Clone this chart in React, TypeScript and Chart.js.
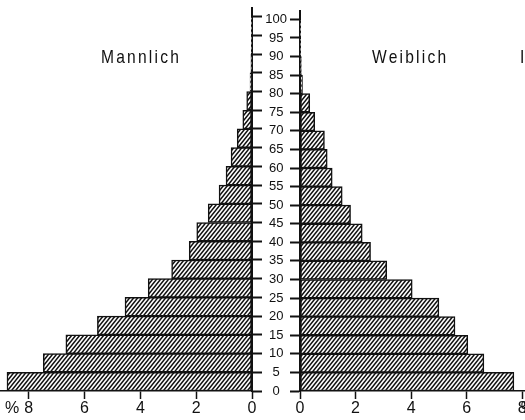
import React, { useEffect, useRef } from 'react';
import { Chart, registerables } from 'chart.js';

Chart.register(...registerables);

// Age groups (lower bound of each 5-year band) and the age axis tick labels
const ageGroupStart = [0, 5, 10, 15, 20, 25, 30, 35, 40, 45, 50, 55, 60, 65, 70, 75, 80, 85, 90, 95];
const ageTicks = [0, 5, 10, 15, 20, 25, 30, 35, 40, 45, 50, 55, 60, 65, 70, 75, 80, 85, 90, 95, 100];

// Share of population in % per age group
const maleShare = [8.78, 7.48, 6.67, 5.54, 4.55, 3.72, 2.88, 2.25, 1.98, 1.57, 1.18, 0.93, 0.75, 0.53, 0.33, 0.19, 0.07, 0.04, 0.02, 0.01];
const femaleShare = [7.7, 6.62, 6.04, 5.58, 5.0, 4.04, 3.12, 2.54, 2.24, 1.82, 1.52, 1.16, 0.98, 0.88, 0.53, 0.35, 0.09, 0.05, 0.02, 0.01];

// Percent axis tick labels
const percentTicks = [0, 2, 4, 6, 8];

const maleTitle = 'Mannlich';
const femaleTitle = 'Weiblich';

const FONT = '"Liberation Sans", Arial, sans-serif';
const LEFT_PCT_POS = 8.6;
const RIGHT_PCT_POS = 8.2;

function makeHatch(): CanvasPattern | string {
  const w = 4;
  const h = 5;
  const c = document.createElement('canvas');
  c.width = w;
  c.height = h;
  const g = c.getContext('2d');
  if (!g) return '#ccc';
  g.fillStyle = '#fff';
  g.fillRect(0, 0, w, h);
  g.strokeStyle = '#111';
  g.lineWidth = 1.5;
  g.beginPath();
  for (const dx of [-w, 0, w]) {
    g.moveTo(dx - w, 2 * h);
    g.lineTo(dx + 2 * w, -h);
  }
  g.stroke();
  return g.createPattern(c, 'repeat') || '#ccc';
}

export default function App() {
  const leftRef = useRef<HTMLCanvasElement | null>(null);
  const rightRef = useRef<HTMLCanvasElement | null>(null);

  useEffect(() => {
    if (!leftRef.current || !rightRef.current) return;
    const hatch = makeHatch();
    const mids = ageGroupStart.map((a) => a + 2.5);

    const dataset = (vals: number[]) => ({
      data: mids.map((y, i) => ({ x: vals[i], y })),
      backgroundColor: hatch,
      borderColor: '#111',
      borderWidth: 1.5,
      borderSkipped: false,
      barPercentage: 1,
      categoryPercentage: 1,
    });

    const yTicksBuild = (s: any) => {
      s.ticks = ageTicks.map((v) => ({ value: v }));
    };

    const xAxis = (reverse: boolean, max: number, pctPos: number) => ({
      type: 'linear',
      reverse,
      min: 0,
      max,
      offset: false,
      afterBuildTicks: (s: any) => {
        s.ticks = [...percentTicks.map((v) => ({ value: v })), { value: pctPos }];
      },
      afterFit: (s: any) => {
        s.height = 29;
      },
      ticks: {
        autoSkip: false,
        maxRotation: 0,
        padding: 0,
        color: '#111',
        font: { family: FONT, size: 16 },
        callback: (v: any) => (v === pctPos ? '%' : String(v)),
      },
      grid: {
        drawOnChartArea: false,
        offset: false,
        tickLength: 8,
        tickWidth: 1.5,
        tickColor: (ctx: any) => (ctx.tick && ctx.tick.value === pctPos ? 'rgba(0,0,0,0)' : '#111'),
      },
      border: { display: true, color: '#111', width: 1.5 },
    });

    const left = new Chart(leftRef.current, {
      type: 'bar',
      data: { datasets: [dataset(maleShare) as any] },
      options: {
        indexAxis: 'y',
        animation: false,
        responsive: false,
        maintainAspectRatio: false,
        plugins: { legend: { display: false }, tooltip: { enabled: false } },
        layout: { padding: { top: 8, left: 0, right: 0, bottom: 0 } },
        scales: {
          x: xAxis(true, 9.03, LEFT_PCT_POS),
          y: {
            type: 'linear',
            position: 'right',
            min: 0,
            max: 102.3,
            offset: false,
            afterBuildTicks: yTicksBuild,
            afterFit: (s: any) => {
              s.width = 10;
            },
            ticks: { display: false, autoSkip: false },
            grid: { drawOnChartArea: false, offset: false, tickLength: 10, tickWidth: 2, color: '#111' },
            border: { display: true, color: '#111', width: 2 },
          },
        },
      } as any,
    });

    const right = new Chart(rightRef.current, {
      type: 'bar',
      data: { datasets: [dataset(femaleShare) as any] },
      options: {
        indexAxis: 'y',
        animation: false,
        responsive: false,
        maintainAspectRatio: false,
        plugins: { legend: { display: false }, tooltip: { enabled: false } },
        layout: { padding: { top: 8, left: 0, right: 0, bottom: 0 } },
        scales: {
          x: xAxis(false, 9, RIGHT_PCT_POS),
          y: {
            type: 'linear',
            position: 'left',
            min: 0,
            max: 102.3,
            offset: false,
            afterBuildTicks: yTicksBuild,
            afterFit: (s: any) => {
              s.width = 38;
            },
            ticks: {
              display: true,
              autoSkip: false,
              crossAlign: 'center',
              padding: 3,
              color: '#111',
              font: { family: FONT, size: 13 },
              callback: (v: any) => String(v),
            },
            grid: { drawOnChartArea: false, offset: false, tickLength: 10, tickWidth: 2, color: '#111' },
            border: { display: true, color: '#111', width: 2 },
          },
        },
      } as any,
    });

    return () => {
      left.destroy();
      right.destroy();
    };
  }, []);

  const titleStyle: React.CSSProperties = {
    position: 'absolute',
    top: 47,
    fontFamily: FONT,
    fontSize: 19,
    lineHeight: '19px',
    letterSpacing: '2.7px',
    color: '#111',
    whiteSpace: 'nowrap',
    transform: 'scaleX(0.82)',
    transformOrigin: 'left top',
  };

  return (
    <div
      style={{
        position: 'fixed',
        left: 0,
        top: 0,
        width: 525,
        height: 420,
        overflow: 'hidden',
        background: '#fff',
      }}
    >
      <canvas
        ref={leftRef}
        width={262}
        height={420}
        style={{ position: 'absolute', left: 0, top: 0, width: 262, height: 420 }}
      />
      <canvas
        ref={rightRef}
        width={288}
        height={420}
        style={{ position: 'absolute', left: 262, top: 0, width: 288, height: 420 }}
      />
      <div style={{ ...titleStyle, left: 101 }}>{maleTitle}</div>
      <div style={{ ...titleStyle, left: 372 }}>{femaleTitle}</div>
      <div style={{ ...titleStyle, left: 520 }}>I</div>
    </div>
  );
}
